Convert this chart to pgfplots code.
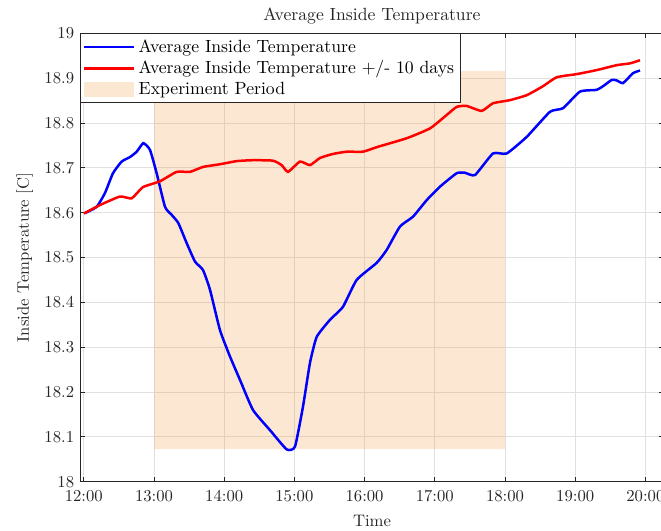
\documentclass[border=0pt]{standalone}
\usepackage{pgfplots}
\pgfplotsset{compat=1.18}
\definecolor{mblue}{rgb}{0,0,1}
\definecolor{mred}{rgb}{1,0,0}
\definecolor{axgray}{rgb}{0.15,0.15,0.15}
\definecolor{patchbase}{RGB}{243,163,75}
\definecolor{patchonwhite}{RGB}{252,232,210}

\begin{document}
\begin{tikzpicture}
\useasboundingbox (-48pt,-29.6pt) rectangle (348.6pt,289pt);
\begin{axis}[
  at={(0,0)}, anchor=south west,
  scale only axis, width=350.4pt, height=269pt,
  xmin=11.946, xmax=20.265, ymin=18, ymax=19,
  xtick={12,13,14,15,16,17,18,19,20},
  xticklabels={12:00,13:00,14:00,15:00,16:00,17:00,18:00,19:00,20:00},
  ytick={18,18.1,18.2,18.3,18.4,18.5,18.6,18.7,18.8,18.9,19},
  tick align=inside, major tick length=3pt,
  grid=major, grid style={black!12, line width=0.4pt},
  axis line style={axgray, line width=0.5pt},
  tick style={axgray, line width=0.5pt},
  tick label style={text=axgray},
  xticklabel style={yshift=-1.5pt},
  title={Average Inside Temperature},
  title style={text=axgray, yshift=-4pt, font=\fontsize{10.6}{12.7}\selectfont},
  xlabel={Time}, ylabel={Inside Temperature [C]},
  label style={text=axgray},
  xlabel style={yshift=-1.5pt},
  legend cell align=left,
  legend style={at={(0,1)}, anchor=north west, draw=axgray, line width=0.5pt,
    fill=white, inner sep=1.5pt, row sep=-0.5pt,
    font=\fontsize{10.6}{12.7}\selectfont,
    nodes={inner sep=2pt}},
  legend image code/.code={\draw[#1] (0pt,0pt) -- (30pt,0pt);},
]
% experiment window, spanning the range of the averaged series
\addplot[forget plot, draw=none, fill=patchbase, fill opacity=0.25]
  coordinates {(13,18.072) (18,18.072) (18,18.917) (13,18.917)} -- cycle;

\addplot[mblue, line width=1.5pt, smooth, tension=0.3] coordinates {
(12.017,18.599) (12.184,18.613) (12.302,18.644) (12.416,18.688) (12.540,18.714)
(12.658,18.724) (12.754,18.736) (12.848,18.755) (12.943,18.740) (13.038,18.688)
(13.157,18.613) (13.252,18.595) (13.346,18.577) (13.466,18.532) (13.584,18.491)
(13.698,18.472) (13.798,18.428) (13.940,18.338) (14.083,18.279) (14.225,18.227)
(14.410,18.160) (14.652,18.115) (14.890,18.072) (15.008,18.078) (15.122,18.167)
(15.222,18.265) (15.318,18.323) (15.507,18.361) (15.692,18.390) (15.887,18.450)
(16.172,18.488) (16.315,18.517) (16.504,18.569) (16.689,18.591) (16.885,18.628)
(17.074,18.658) (17.312,18.688) (17.430,18.689) (17.573,18.684) (17.829,18.732)
(18.024,18.732) (18.309,18.769) (18.641,18.825) (18.826,18.833) (19.068,18.870)
(19.306,18.874) (19.396,18.882) (19.520,18.896) (19.591,18.895) (19.681,18.889)
(19.823,18.911) (19.923,18.917)
};
\addlegendentry{Average Inside Temperature}

\addplot[mred, line width=1.5pt, smooth, tension=0.3] coordinates {
(12.000,18.598) (12.231,18.617) (12.516,18.636) (12.682,18.632) (12.843,18.657)
(13.085,18.670) (13.323,18.691) (13.513,18.691) (13.698,18.702) (13.940,18.708)
(14.178,18.715) (14.410,18.717) (14.695,18.716) (14.819,18.706) (14.909,18.691)
(15.080,18.714) (15.222,18.706) (15.365,18.722) (15.550,18.731) (15.745,18.736)
(15.977,18.736) (16.191,18.747) (16.600,18.766) (16.932,18.788) (17.170,18.818)
(17.312,18.836) (17.454,18.838) (17.668,18.827) (17.829,18.844) (18.071,18.851)
(18.309,18.862) (18.541,18.882) (18.736,18.902) (19.021,18.909) (19.306,18.918)
(19.591,18.929) (19.781,18.933) (19.923,18.940)
};
\addlegendentry{Average Inside Temperature +/- 10 days}

\addlegendimage{legend image code/.code={%
  \path[fill=patchonwhite, draw=none] (0pt,-4.5pt) rectangle (30pt,4.5pt);}}
\addlegendentry{Experiment Period}
\end{axis}
\end{tikzpicture}
\end{document}
